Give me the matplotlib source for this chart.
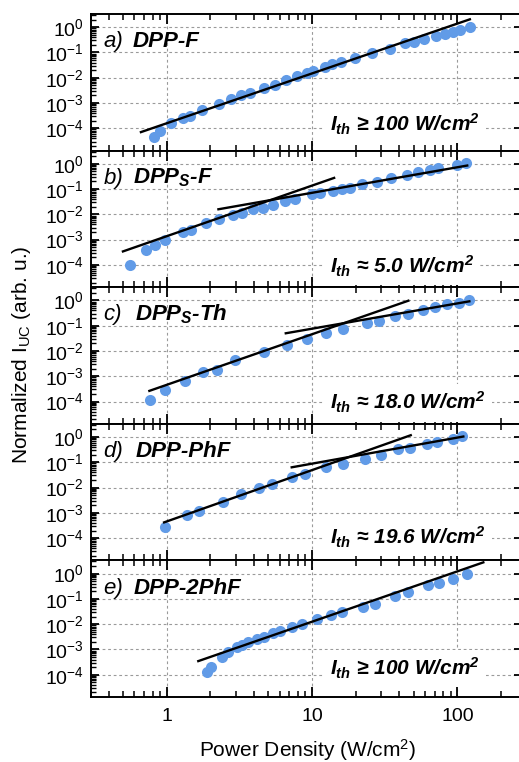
import numpy as np
import matplotlib
matplotlib.use('Agg')
import matplotlib.pyplot as plt
from matplotlib.ticker import LogLocator, FixedLocator, FixedFormatter, NullFormatter

plt.rcParams['font.family'] = ['Liberation Sans', 'DejaVu Sans']
plt.rcParams['mathtext.fontset'] = 'custom'
plt.rcParams['mathtext.rm'] = 'Liberation Sans'
plt.rcParams['mathtext.it'] = 'Liberation Sans:italic'
plt.rcParams['mathtext.bf'] = 'Liberation Sans:bold'
plt.rcParams['mathtext.bfit'] = 'Liberation Sans:bold:italic'

# ---------------- data ----------------
xa = [0.82, 0.90, 1.07, 1.29, 1.45, 1.74, 2.30, 2.77, 3.25, 3.74, 4.67, 5.56, 6.62, 7.85,
      9.2, 10.2, 12.2, 13.7, 15.8, 19.8, 25.8, 34.4, 43.6, 50.4, 59, 71.3, 82, 93, 104, 122]
ya = [4.5e-5, 7.8e-5, 1.6e-4, 2.6e-4, 3.2e-4, 5.5e-4, 9.5e-4, 1.4e-3, 2.0e-3, 2.6e-3,
      4.1e-3, 5.4e-3, 8.5e-3, 1.2e-2, 1.55e-2, 1.8e-2, 2.7e-2, 3.4e-2, 4.2e-2, 5.8e-2,
      9.1e-2, 0.14, 0.23, 0.26, 0.34, 0.46, 0.53, 0.62, 0.77, 0.98]

xb = [0.56, 0.72, 0.83, 0.97, 1.29, 1.47, 1.86, 2.3, 2.84, 3.28, 3.9, 4.58, 5.4, 6.5, 7.6,
      9.95, 11.4, 13.9, 16, 18.3, 22, 27.9, 34.8, 44.8, 54, 64.9, 74, 99.7, 115]
yb = [1e-4, 4e-4, 6.3e-4, 1e-3, 2e-3, 2.5e-3, 4.7e-3, 6.3e-3, 9.1e-3, 1.15e-2, 1.6e-2,
      1.85e-2, 2.3e-2, 3.4e-2, 4e-2, 6.3e-2, 6.9e-2, 8.5e-2, 0.1, 0.11, 0.16, 0.195, 0.275,
      0.36, 0.46, 0.59, 0.66, 0.91, 1.1]

xc = [0.77, 0.97, 1.34, 1.79, 2.23, 2.95, 4.67, 6.7, 9.2, 12.4, 16.3, 24, 29, 37.3, 46,
      58.4, 70, 84.6, 103, 121]
yc = [1.2e-4, 2.75e-4, 6.3e-4, 1.5e-3, 1.8e-3, 4.4e-3, 9.3e-3, 1.7e-2, 2.9e-2, 5e-2,
      7.3e-2, 0.126, 0.158, 0.235, 0.30, 0.40, 0.54, 0.69, 0.80, 1.02]

xd = [0.97, 1.39, 1.68, 2.43, 3.25, 4.32, 5.33, 7.3, 8.95, 12.4, 16.3, 23.2, 29.7, 39.3,
      47.3, 61.6, 72.8, 93.8, 108]
yd = [2.7e-4, 8.1e-4, 1.2e-3, 2.6e-3, 5.4e-3, 9.3e-3, 1.35e-2, 2.5e-2, 3.3e-2, 6.3e-2,
      8.7e-2, 0.14, 0.19, 0.32, 0.37, 0.54, 0.63, 0.85, 1.05]

xe = [1.88, 2.01, 2.42, 2.66, 3.03, 3.28, 3.65, 4.2, 4.7, 5.4, 6.0, 7.25, 8.5, 10.9, 13.6,
      16, 22.5, 27.2, 37.3, 46, 63, 75, 93, 117]
ye = [1.3e-4, 2e-4, 4.9e-4, 7.8e-4, 1.2e-3, 1.5e-3, 1.9e-3, 2.6e-3, 3.1e-3, 4.6e-3,
      5.6e-3, 7.6e-3, 1.04e-2, 1.6e-2, 2.2e-2, 3e-2, 4.8e-2, 6.5e-2, 0.13, 0.19, 0.35,
      0.44, 0.63, 1.0]

# power-law fits: (x_start, x_end, exponent n, log10 prefactor A)  y = A * x^n
fits_a = [(0.665, 122, 1.97, -3.80)]
fits_b = [(0.50, 14.2, 2.00, -2.864), (2.27, 117, 1.01, -2.159)]
fits_c = [(0.76, 46, 2.00, -3.34), (6.6, 121, 1.00, -2.121)]
fits_d = [(0.96, 47.8, 2.03, -3.341), (7.25, 110, 1.03, -2.086)]
fits_e = [(1.65, 151, 1.99, -3.894)]

letters = ['a)', 'b)', 'c)', 'd)', 'e)']
names = ['DPP-F', r'DPP$_\mathbfit{S}$-F', r'DPP$_\mathbfit{S}$-Th', 'DPP-PhF', 'DPP-2PhF']
ith_labels = ['\u2265 100', '\u2248 5.0', '\u2248 18.0', '\u2248 19.6', '\u2265 100']

xs = [xa, xb, xc, xd, xe]
ys = [ya, yb, yc, yd, ye]
fits = [fits_a, fits_b, fits_c, fits_d, fits_e]

ytick_vals = [1e-4, 1e-3, 1e-2, 1e-1, 1e0]
ytick_labels = [r'$\mathregular{10^{-4}}$', r'$\mathregular{10^{-3}}$', r'$\mathregular{10^{-2}}$',
                r'$\mathregular{10^{-1}}$', r'$\mathregular{10^{0}}$']
xtick_vals = [1, 10, 100]
xtick_labels = ['1', '10', '100']

# ---------------- layout ----------------
W, H = 519, 762
fig = plt.figure(figsize=(W / 100, H / 100), dpi=100)
left_px, right_px, top_px, bot_px = 90.7, 522.3, 14, 697
ph = (bot_px - top_px) / 5

color = '#619be7'
name_x = [0.096, 0.099, 0.103, 0.103, 0.099]
ith_y = [10 ** -4.12, 10 ** -4.33, 10 ** -4.33, 10 ** -4.26, 10 ** -4.03]

for i in range(5):
    y0 = top_px + i * ph
    ax = fig.add_axes([left_px / W, 1 - (y0 + ph) / H, (right_px - left_px) / W, ph / H])
    ax.set_xscale('log')
    ax.set_yscale('log')
    ax.set_xlim(0.3, 280)
    ax.set_ylim(10 ** -4.88, 10 ** 0.52)

    ax.grid(True, which='major', color='#9a9a9a', linestyle=(0, (2.5, 2.5)), linewidth=0.8)
    ax.set_axisbelow(True)

    ax.plot(xs[i], ys[i], 'o', color=color, markersize=8, markeredgewidth=0, zorder=3)
    for (x0, x1, n, la) in fits[i]:
        xx = np.array([x0, x1])
        ax.plot(xx, 10 ** la * xx ** n, color='black', linewidth=1.7, zorder=4)

    ax.yaxis.set_major_locator(FixedLocator(ytick_vals))
    ax.yaxis.set_major_formatter(FixedFormatter(ytick_labels))
    ax.yaxis.set_minor_locator(LogLocator(base=10, subs=np.arange(2, 10), numticks=20))
    ax.yaxis.set_minor_formatter(NullFormatter())
    ax.xaxis.set_major_locator(FixedLocator(xtick_vals))
    ax.xaxis.set_major_formatter(FixedFormatter(xtick_labels if i == 4 else ['', '', '']))
    ax.xaxis.set_minor_locator(LogLocator(base=10, subs=np.arange(2, 10), numticks=20))
    ax.xaxis.set_minor_formatter(NullFormatter())

    ax.tick_params(axis='y', which='major', direction='in', length=6, width=1.3,
                   labelsize=14, pad=5, right=True)
    ax.tick_params(axis='y', which='minor', direction='in', length=3.5, width=1.0)
    ax.tick_params(axis='x', which='major', direction='in', length=7, width=1.3,
                   labelsize=14, pad=8, top=True)
    ax.tick_params(axis='x', which='minor', direction='in', length=4.5, width=1.1, top=True)
    for s in ax.spines.values():
        s.set_linewidth(1.4)

    ax.text(0.03, 0.757, letters[i], transform=ax.transAxes, fontsize=16,
            style='italic', ha='left', va='baseline')
    ax.text(name_x[i], 0.757, names[i], transform=ax.transAxes, fontsize=16,
            style='italic', fontweight='bold', ha='left', va='baseline')
    ax.text(13.3, ith_y[i], r'$\mathbfit{I}_\mathbfit{th}$ ' + ith_labels[i] + r' W/cm$^\mathbfit{2}$',
            fontsize=15, style='italic', fontweight='bold', ha='left', va='baseline',
            zorder=5, bbox=dict(boxstyle='square,pad=0.3', facecolor='white', edgecolor='none'))

fig.text(308 / W, 1 - 757 / H, r'Power Density (W/cm$^\mathregular{2}$)', fontsize=15,
         ha='center', va='baseline')
fig.text(22 / W, 1 - 355 / H, r'Normalized I$_\mathregular{UC}$ (arb. u.)', fontsize=15,
         ha='center', va='center', rotation=90)

fig.savefig('out.png', dpi=100)
